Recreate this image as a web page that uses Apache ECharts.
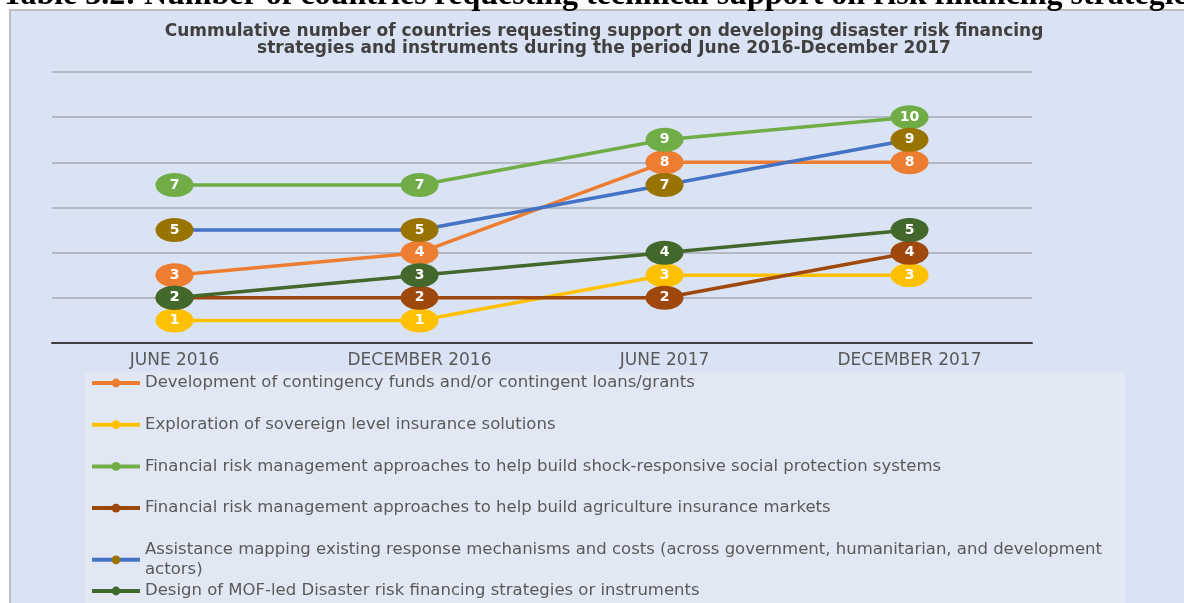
<!DOCTYPE html>
<html>
<head>
<meta charset="utf-8">
<title>Cummulative number of countries requesting support</title>
<script src="https://cdn.jsdelivr.net/npm/echarts@6/dist/echarts.min.js"></script>
<style>
  html, body { margin: 0; padding: 0; background: #ffffff; }
  #chart { width: 1184px; height: 603px; }
</style>
</head>
<body>
<div id="chart"></div>
<script>
// periods on the x axis
const categories = ["JUNE 2016", "DECEMBER 2016", "JUNE 2017", "DECEMBER 2017"]

// cumulative number of countries per type of support
const contingencyFunds = [3, 4, 8, 8]
const sovereignInsurance = [1, 1, 3, 3]
const socialProtection = [7, 7, 9, 10]
const agricultureInsurance = [2, 2, 2, 4]
const assistanceMapping = [5, 5, 7, 9]
const mofStrategies = [2, 3, 4, 5]

const seriesNames = [
  "Development of contingency funds and/or contingent loans/grants",
  "Exploration of sovereign level insurance solutions",
  "Financial risk management approaches to help build shock-responsive social protection systems",
  "Financial risk management approaches to help build agriculture insurance markets",
  "Assistance mapping existing response mechanisms and costs (across government, humanitarian, and development actors)",
  "Design of MOF-led Disaster risk financing strategies or instruments",
]
const seriesValues = [
  contingencyFunds,
  sovereignInsurance,
  socialProtection,
  agricultureInsurance,
  assistanceMapping,
  mofStrategies,
]
// line colour / marker colour (the mapping series has blue line, olive markers)
const lineColors = ["#ed7d31", "#ffc000", "#70ad47", "#9e480e", "#4472c4", "#43682b"]
const markerColors = ["#ed7d31", "#ffc000", "#70ad47", "#9e480e", "#997300", "#43682b"]

const chartDom = document.getElementById("chart")
const myChart = echarts.init(chartDom)

const legendText = {
  color: "#595959",
  fontSize: 16.5,
  fontFamily: "DejaVu Sans",
  lineHeight: 20,
  width: 975,
  overflow: "break",
}

const option = {
  backgroundColor: "#ffffff",
  animation: false,
  graphic: [
    {
      // chart area panel
      type: "rect",
      z: -10,
      silent: true,
      shape: { x: 10, y: 10, width: 1190, height: 610 },
      style: { fill: "#dae3f3", stroke: "#bfbfbf", lineWidth: 2 },
    },
  ],
  title: [
    {
      text: "Table 3.2: Number of countries requesting technical support on risk financing strategies",
      left: 2,
      top: -20,
      padding: 0,
      z: 1,
      textStyle: {
        fontFamily: "Liberation Serif",
        fontWeight: "bold",
        fontSize: 32,
        color: "#000000",
      },
    },
    {
      text:
        "Cummulative number of countries requesting support on developing disaster risk financing\n" +
        "strategies and instruments during the period June 2016-December 2017",
      left: 604,
      top: 23,
      padding: 0,
      textAlign: "center",
      textStyle: {
        fontFamily: "DejaVu Sans",
        fontWeight: "bold",
        fontSize: 17,
        lineHeight: 17,
        color: "#404040",
      },
    },
  ],
  legend: [
    {
      orient: "vertical",
      left: 85,
      top: 372,
      padding: [1, 5, 1, 5],
      itemGap: 21.7,
      itemWidth: 48,
      itemHeight: 11,
      backgroundColor: "#e1e8f4",
      lineStyle: { width: 4 },
      data: seriesNames.slice(0, 5),
      textStyle: legendText,
    },
    {
      orient: "vertical",
      left: 85,
      top: 580,
      padding: [1, 5, 4, 5],
      itemWidth: 48,
      itemHeight: 11,
      backgroundColor: "#e1e8f4",
      lineStyle: { width: 4 },
      data: seriesNames.slice(5),
      textStyle: legendText,
    },
  ],
  grid: {
    left: 52,
    right: 152,
    top: 72,
    bottom: 260,
  },
  xAxis: {
    type: "category",
    data: categories,
    boundaryGap: true,
    axisLine: { lineStyle: { color: "#404040", width: 2 } },
    axisTick: { show: false },
    axisLabel: {
      color: "#595959",
      fontSize: 17,
      fontFamily: "DejaVu Sans",
      margin: 9,
    },
  },
  yAxis: {
    type: "value",
    min: 0,
    max: 12,
    interval: 2,
    axisLabel: { show: false },
    axisLine: { show: false },
    axisTick: { show: false },
    splitLine: { lineStyle: { color: "#a6aab2", width: 1.5 } },
  },
  series: seriesNames.map((name, i) => ({
    name: name,
    type: "line",
    data: seriesValues[i],
    symbol: "circle",
    symbolSize: [38, 24],
    lineStyle: { color: lineColors[i], width: 3.5 },
    itemStyle: { color: markerColors[i] },
    label: {
      show: true,
      position: "inside",
      color: "#ffffff",
      fontWeight: "bold",
      fontSize: 14,
      fontFamily: "DejaVu Sans",
    },
    emphasis: { disabled: true },
  })),
}

myChart.setOption(option)
window.addEventListener("resize", () => {
  myChart.resize()
})
</script>
</body>
</html>
